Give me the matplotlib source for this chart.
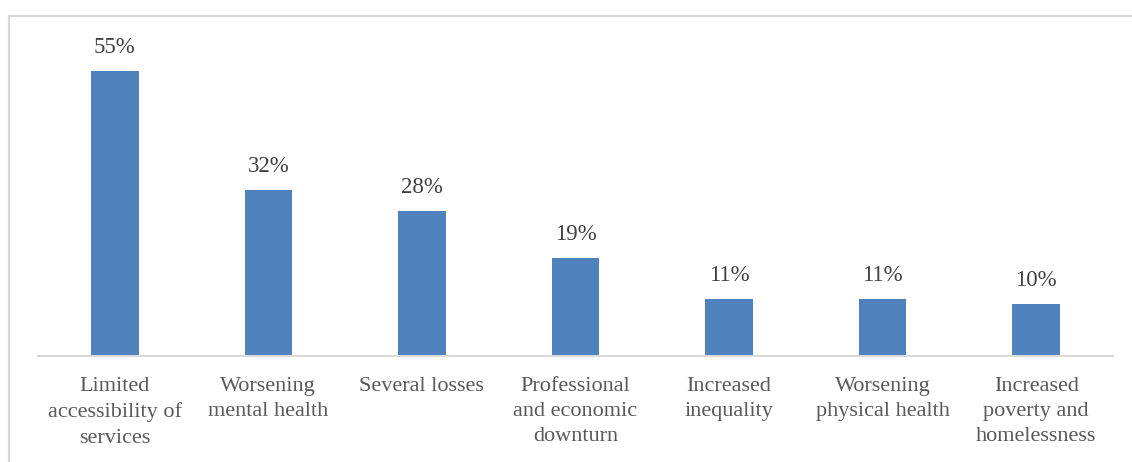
import matplotlib.pyplot as plt
from matplotlib.lines import Line2D
import numpy as np

categories = ["Limited\naccessibility of\nservices", "Worsening\nmental health", "Several losses",
              "Professional\nand economic\ndownturn", "Increased\ninequality",
              "Worsening\nphysical health", "Increased\npoverty and\nhomelessness"]
values = [55, 32, 28, 19, 11, 11, 10]

W, H = 1132, 462
fig = plt.figure(figsize=(W / 100, H / 100), dpi=100)
plt.rcParams['font.family'] = ['Liberation Serif', 'DejaVu Serif']

# plot area in pixels: left 38, right 1113, baseline 356, top 30
ax = fig.add_axes([38 / W, (H - 356) / H, (1113 - 38) / W, (356 - 30) / H])
x = np.arange(len(categories))
ax.bar(x, values, width=0.31, color='#4f81bd')
ax.set_xlim(-0.5, len(categories) - 0.5)
ax.set_ylim(0, 326 / 5.18)

for xi, v in zip(x, values):
    ax.text(xi, v + 2.5, f"{v}%", ha='center', va='bottom', fontsize=16.5, color='#404040')

ax.set_xticks(x)
ax.set_xticklabels(categories, fontsize=16, color='#595959', linespacing=1.45, va='top')
ax.tick_params(axis='x', length=0, pad=15)
ax.set_yticks([])
for s in ['top', 'right', 'left']:
    ax.spines[s].set_visible(False)
ax.spines['bottom'].set_color('#d9d9d9')
ax.spines['bottom'].set_linewidth(1.5)

# outer chart border (top and left visible)
fig.add_artist(Line2D([8.5 / W, 1], [1 - 15.5 / H, 1 - 15.5 / H], color='#d9d9d9', lw=1.5))
fig.add_artist(Line2D([8.5 / W, 8.5 / W], [0, 1 - 15.5 / H], color='#d9d9d9', lw=1.5))

fig.savefig('out.png', dpi=100)
